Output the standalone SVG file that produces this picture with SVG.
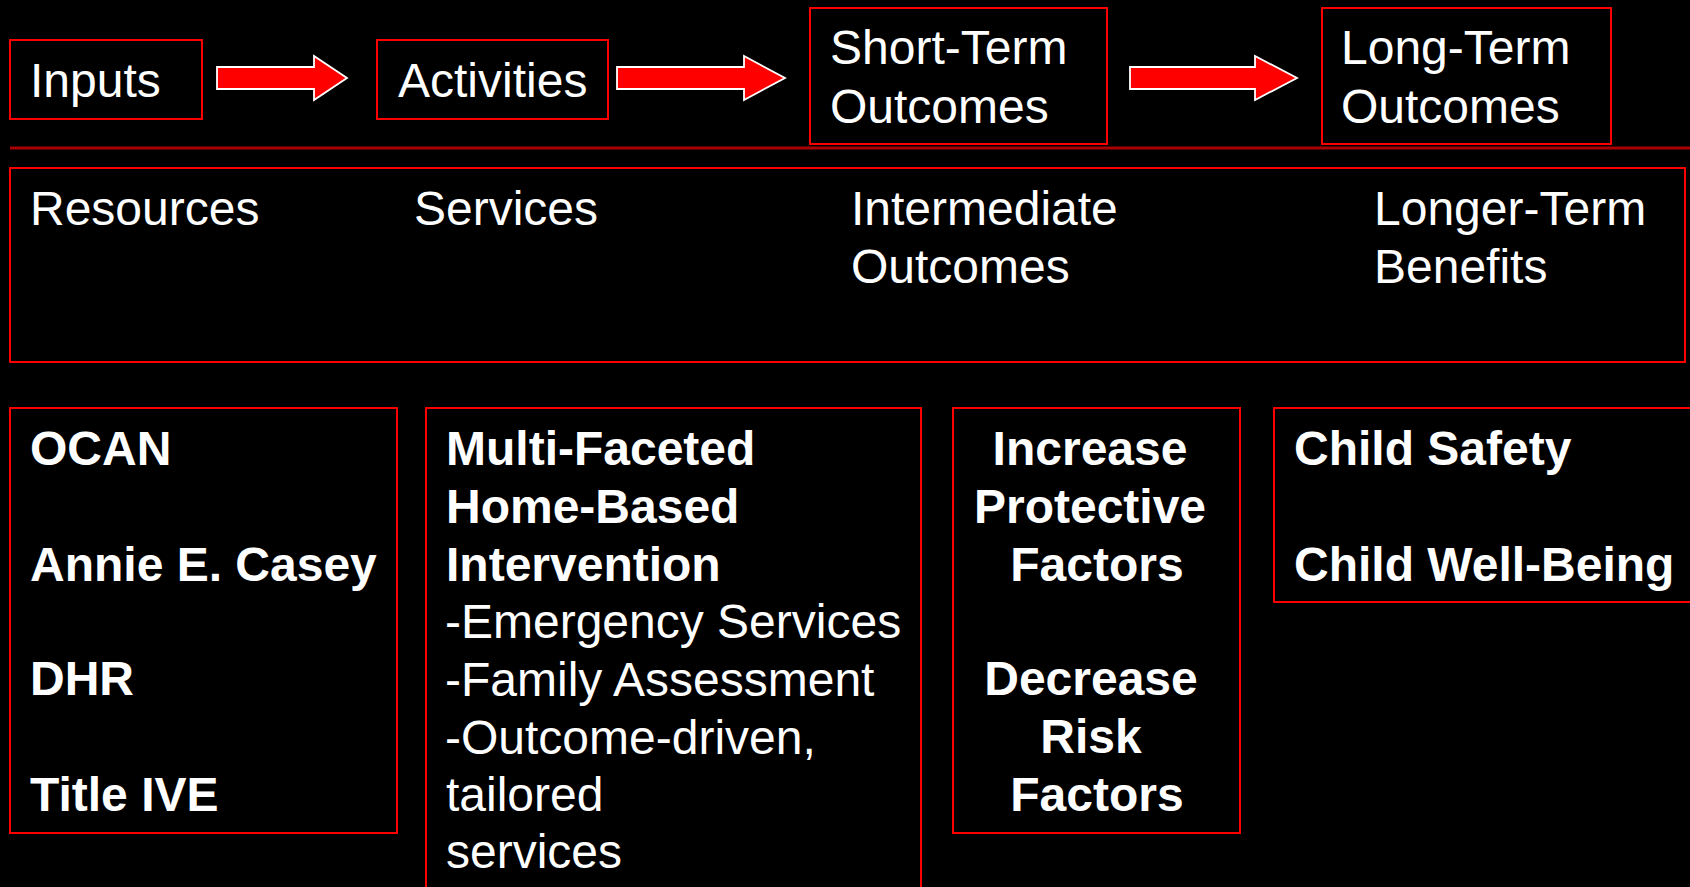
<svg xmlns="http://www.w3.org/2000/svg" width="1690" height="887" viewBox="0 0 1690 887">
<style>
.box{fill:#000;stroke:#ff0000;stroke-width:2}
.arrow{fill:#ff0000;stroke:#ffffff;stroke-width:1.8;stroke-linejoin:miter}
.t{font-family:"Liberation Sans",Arial,sans-serif;font-size:48px;fill:#ffffff}
.b{font-weight:bold}
.c{text-anchor:middle}
</style>
<rect width="1690" height="887" fill="#000"/>
<g id="connectors">
<polygon class="arrow" points="217,67 314,67 314,56 347,78 314,100 314,89 217,89"/>
<polygon class="arrow" points="617,67 744,67 744,56 785,78 744,100 744,89 617,89"/>
<polygon class="arrow" points="1130,67 1255,67 1255,56 1297,78 1255,100 1255,89 1130,89"/>
</g>
<line id="divider" x1="10" y1="148" x2="1690" y2="148" stroke="#a80000" stroke-width="3"/>
<g id="inputs">
<rect class="box" x="10" y="40" width="192" height="79"/>
<text class="t" x="30" y="97">Inputs</text>
</g>
<g id="activities">
<rect class="box" x="377" y="40" width="231" height="79"/>
<text class="t" x="398" y="97">Activities</text>
</g>
<g id="short-term">
<rect class="box" x="810" y="8" width="297" height="136"/>
<text class="t" x="830" y="64">Short-Term</text>
<text class="t" x="830" y="123">Outcomes</text>
</g>
<g id="long-term">
<rect class="box" x="1322" y="8" width="289" height="136"/>
<text class="t" x="1341" y="64">Long-Term</text>
<text class="t" x="1341" y="123">Outcomes</text>
</g>
<g id="categories">
<rect class="box" x="10" y="168" width="1675" height="194"/>
<text class="t" x="30" y="225">Resources</text>
<text class="t" x="414" y="225">Services</text>
<text class="t" x="851" y="225">Intermediate</text>
<text class="t" x="851" y="283">Outcomes</text>
<text class="t" x="1374" y="225">Longer-Term</text>
<text class="t" x="1374" y="283">Benefits</text>
</g>
<g id="resources">
<rect class="box" x="10" y="408" width="387" height="425"/>
<text class="t b" x="30" y="465">OCAN</text>
<text class="t b" x="30" y="581">Annie E. Casey</text>
<text class="t b" x="30" y="695">DHR</text>
<text class="t b" x="30" y="811">Title IVE</text>
</g>
<g id="services">
<rect class="box" x="426" y="408" width="495" height="490"/>
<text class="t b" x="446" y="465">Multi-Faceted</text>
<text class="t b" x="446" y="523">Home-Based</text>
<text class="t b" x="446" y="581">Intervention</text>
<text class="t" x="445" y="638">-Emergency Services</text>
<text class="t" x="445" y="696">-Family Assessment</text>
<text class="t" x="445" y="754">-Outcome-driven,</text>
<text class="t" x="446" y="811">tailored</text>
<text class="t" x="446" y="868">services</text>
</g>
<g id="intermediate">
<rect class="box" x="953" y="408" width="287" height="425"/>
<text class="t b c" x="1090" y="465">Increase</text>
<text class="t b c" x="1090" y="523">Protective</text>
<text class="t b c" x="1097" y="581">Factors</text>
<text class="t b c" x="1091" y="695">Decrease</text>
<text class="t b c" x="1091" y="753">Risk</text>
<text class="t b c" x="1097" y="811">Factors</text>
</g>
<g id="benefits">
<rect class="box" x="1274" y="408" width="430" height="194"/>
<text class="t b" x="1294" y="465">Child Safety</text>
<text class="t b" x="1294" y="581">Child Well-Being</text>
</g>
</svg>
